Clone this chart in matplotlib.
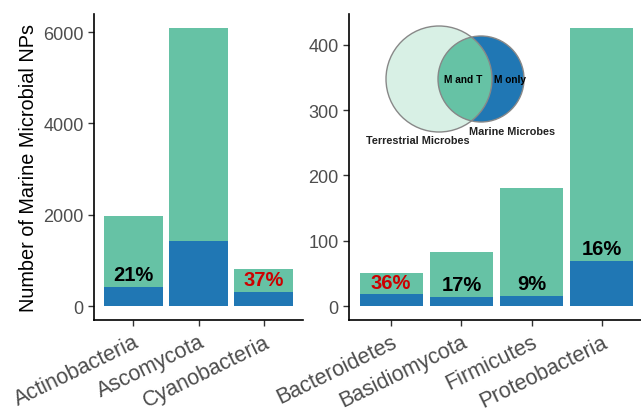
import matplotlib.pyplot as plt
import matplotlib.patches as mpatches
import numpy as np

plt.rcParams['font.family'] = ['Liberation Sans', 'DejaVu Sans']

# ---- data ----
phyla_a = ["Actinobacteria", "Ascomycota", "Cyanobacteria"]
total_a = [1970, 6090, 810]
monly_a = [415, 1420, 305]
pct_a = ["21%", "", "37%"]
pct_col_a = ["black", "black", "#cc0000"]

phyla_b = ["Bacteroidetes", "Basidiomycota", "Firmicutes", "Proteobacteria"]
total_b = [51, 83, 181, 426]
monly_b = [18, 14, 16, 69]
pct_b = ["36%", "17%", "9%", "16%"]
pct_col_b = ["#cc0000", "black", "black", "black"]

teal = "#66c2a5"
blue = "#2077b4"
grey = "#4d4d4d"

fig = plt.figure(figsize=(6.41, 4.10), dpi=100)
ax1 = fig.add_axes([94/641, 89/410, 209/641, 306/410])
ax2 = fig.add_axes([349/641, 89/410, 295/641, 306/410])


def panel(ax, names, total, monly, pct, pcol):
    x = np.arange(len(names))
    ax.bar(x, total, width=0.9, color=teal)
    ax.bar(x, monly, width=0.9, color=blue)
    for xi, m, p, c in zip(x, monly, pct, pcol):
        if p:
            ax.annotate(p, (xi, m), xytext=(0, 2), textcoords="offset points",
                        ha="center", va="bottom", fontsize=14.5,
                        fontweight="bold", color=c)
    top = max(total)
    ax.set_xlim(-0.6, len(names) - 0.4)
    ax.set_ylim(-0.05 * top, 1.05 * top)
    ax.set_xticks(x)
    ax.set_xticklabels(names, rotation=26, ha="right", rotation_mode="anchor",
                       fontsize=15.5, color=grey)
    for s in ["top", "right"]:
        ax.spines[s].set_visible(False)
    for s in ["left", "bottom"]:
        ax.spines[s].set_linewidth(1.2)
    ax.tick_params(axis="both", length=4, width=1, color="#333333",
                   labelcolor=grey)
    ax.tick_params(axis="y", labelsize=13)
    ax.tick_params(axis="x", labelsize=15.5, pad=4)


panel(ax1, phyla_a, total_a, monly_a, pct_a, pct_col_a)
panel(ax2, phyla_b, total_b, monly_b, pct_b, pct_col_b)
ax1.set_yticks([0, 2000, 4000, 6000])
ax2.set_yticks([0, 100, 200, 300, 400])
ax1.set_ylabel("Number of Marine Microbial NPs", fontsize=14.3, labelpad=4)

# ---- venn inset ----
vax = fig.add_axes([360/641, 1 - 160/410, 200/641, 140/410])
vax.set_xlim(360, 560)
vax.set_ylim(160, 20)
vax.set_aspect("equal")
vax.axis("off")
big = mpatches.Circle((439, 80), 53, facecolor="#d8f0e5", edgecolor="none")
vax.add_patch(big)
small = mpatches.Circle((481, 80), 43, facecolor=blue, edgecolor="none")
vax.add_patch(small)
inter = mpatches.Circle((481, 80), 43, facecolor=teal, edgecolor="none")
vax.add_patch(inter)
inter.set_clip_path(big)
vax.add_patch(mpatches.Circle((439, 80), 53, fill=False, edgecolor="#888888", lw=1))
vax.add_patch(mpatches.Circle((481, 80), 43, fill=False, edgecolor="#888888", lw=1))
vax.text(463, 80, "M and T", ha="center", va="center", fontsize=7.3, fontweight="bold")
vax.text(510, 80, "M only", ha="center", va="center", fontsize=7.3, fontweight="bold")
vax.text(418, 141, "Terrestrial Microbes", ha="center", va="center", fontsize=7.8,
         fontweight="bold", color="#222222")
vax.text(512, 132, "Marine Microbes", ha="center", va="center", fontsize=7.8,
         fontweight="bold", color="#222222")

fig.savefig("out.png", dpi=100)
